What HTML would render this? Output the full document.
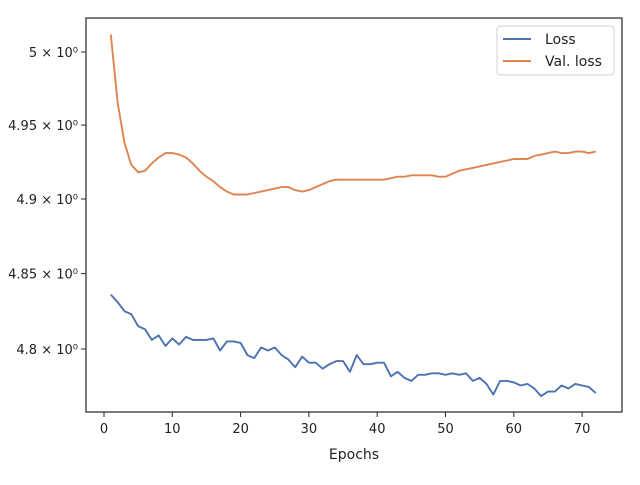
<!DOCTYPE html>
<html><head><meta charset="utf-8"><style>
body{margin:0;background:#fff;}
svg text{font-family:"DejaVu Sans","Liberation Sans",sans-serif;fill:#222;}
</style></head><body>
<svg id="chart" width="640" height="480" xmlns="http://www.w3.org/2000/svg">
<g id="plot"></g>
</svg>
<script>
const epochs = Array.from({length:72},(_,i)=>i+1);
const lossValues = [4.836,4.831,4.825,4.823,4.815,4.813,4.806,4.809,4.802,4.807,4.803,4.808,4.806,4.806,4.806,4.807,4.799,4.805,4.805,4.804,4.796,4.794,4.801,4.799,4.801,4.796,4.793,4.788,4.795,4.791,4.791,4.787,4.790,4.792,4.792,4.785,4.796,4.790,4.790,4.791,4.791,4.782,4.785,4.781,4.779,4.783,4.783,4.784,4.784,4.783,4.784,4.783,4.784,4.779,4.781,4.777,4.770,4.779,4.779,4.778,4.776,4.777,4.774,4.769,4.772,4.772,4.776,4.774,4.777,4.776,4.775,4.771];
const valLossValues = [5.012,4.965,4.938,4.923,4.918,4.919,4.924,4.928,4.931,4.931,4.930,4.928,4.924,4.919,4.915,4.912,4.908,4.905,4.903,4.903,4.903,4.904,4.905,4.906,4.907,4.908,4.908,4.906,4.905,4.906,4.908,4.910,4.912,4.913,4.913,4.913,4.913,4.913,4.913,4.913,4.913,4.914,4.915,4.915,4.916,4.916,4.916,4.916,4.915,4.915,4.917,4.919,4.920,4.921,4.922,4.923,4.924,4.925,4.926,4.927,4.927,4.927,4.929,4.930,4.931,4.932,4.931,4.931,4.932,4.932,4.931,4.932];
const xTicks = [0,10,20,30,40,50,60,70];
const yTicks = [5.0,4.95,4.9,4.85,4.8];
const yTickLabels = ["5 × 10⁰","4.95 × 10⁰","4.9 × 10⁰","4.85 × 10⁰","4.8 × 10⁰"];

const L=86,R=622,T=18,B=412;
const xs=v=>104+(v-0)*6.83;
const ys=v=>349-Math.log(v/4.8)*7276;
const g=document.getElementById('plot');
const NS='http://www.w3.org/2000/svg';
function mk(tag,attrs,parent){const e=document.createElementNS(NS,tag);for(const k in attrs)e.setAttribute(k,attrs[k]);(parent||g).appendChild(e);return e;}

const frame=mk('rect',{x:L,y:T,width:R-L,height:B-T,fill:'none',stroke:'#262626','stroke-width':1.2});



xTicks.forEach(t=>{
  const x=xs(t);
  const tk=mk('line',{x1:x,x2:x,y1:B,y2:B+5,stroke:'#262626'});
  
  
  const tx=mk('text',{x:x,y:B+21,'text-anchor':'middle','font-size':13});
  tx.textContent=t;
  
  
});
yTicks.forEach((t,i)=>{
  const y=ys(t);
  const tk=mk('line',{x1:L-5,x2:L,y1:y,y2:y,stroke:'#262626'});
  
  
  const tx=mk('text',{x:L-8,y:y+5,'text-anchor':'end','font-size':13});
  tx.textContent=yTickLabels[i];
  
  
});
const xt=mk('text',{x:354,y:459,'text-anchor':'middle','font-size':14});
xt.textContent='Epochs';



function series(vals,color,name){
  const d=vals.map((v,i)=>(i?'L':'M')+xs(epochs[i]).toFixed(1)+','+ys(v).toFixed(1)).join('');
  const p=mk('path',{d:d,fill:'none',stroke:color,'stroke-width':1.9,'stroke-linejoin':'round'});
  
  
}
series(lossValues,'#4c72b0','loss-line');
series(valLossValues,'#dd8452','val-loss-line');

const lg=mk('g',{});


mk('rect',{x:497,y:26,width:117,height:49,rx:3,fill:'#fff',stroke:'#d0d0d0'},lg);
mk('line',{x1:503,x2:531,y1:39,y2:39,stroke:'#4c72b0','stroke-width':1.9},lg);
mk('line',{x1:503,x2:531,y1:61,y2:61,stroke:'#dd8452','stroke-width':1.9},lg);
const t1=mk('text',{x:545,y:44,'font-size':14},lg);t1.textContent='Loss';


const t2=mk('text',{x:545,y:66,'font-size':14},lg);t2.textContent='Val. loss';


</script>
</body></html>
